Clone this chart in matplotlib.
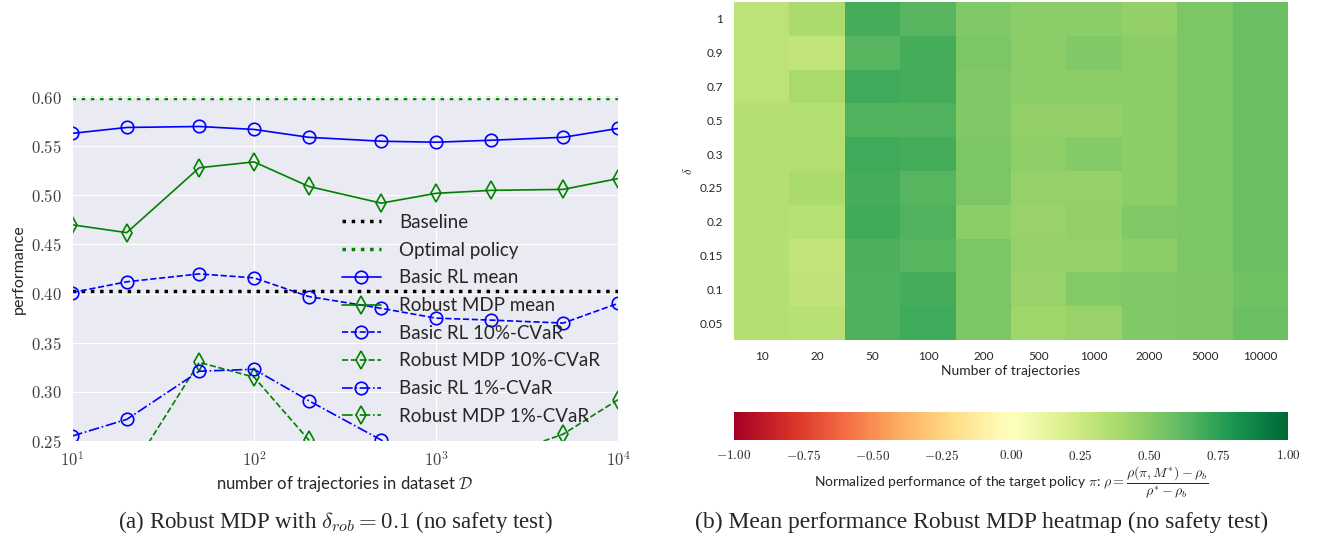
import numpy as np
import matplotlib
matplotlib.use('Agg')
import matplotlib.pyplot as plt
import seaborn as sns
from matplotlib.ticker import FuncFormatter, FixedLocator, NullLocator

sns.set_style('darkgrid')
plt.rcParams['font.family'] = ['Lato', 'DejaVu Sans']
plt.rcParams['mathtext.fontset'] = 'cm'

# left panel data
n_traj = [10, 20, 50, 100, 200, 500, 1000, 2000, 5000, 10000]
baseline = 0.403
optimal = 0.599
basic_mean = [0.563, 0.569, 0.570, 0.567, 0.559, 0.555, 0.554, 0.556, 0.559, 0.568]
robust_mean = [0.470, 0.462, 0.528, 0.534, 0.509, 0.492, 0.502, 0.505, 0.506, 0.517]
basic_cvar10 = [0.401, 0.412, 0.420, 0.416, 0.397, 0.385, 0.375, 0.373, 0.370, 0.390]
robust_cvar10 = [0.200, 0.213, 0.330, 0.315, 0.251, 0.200, 0.205, 0.231, 0.257, 0.292]
basic_cvar1 = [0.255, 0.272, 0.321, 0.323, 0.291, 0.251, 0.210, 0.200, 0.205, 0.220]
robust_cvar1 = [0.100, 0.110, 0.180, 0.170, 0.120, 0.090, 0.100, 0.110, 0.130, 0.160]

# right panel data (normalized performance)
deltas = ['1', '0.9', '0.7', '0.5', '0.3', '0.25', '0.2', '0.15', '0.1', '0.05']
traj_labels = ['10', '20', '50', '100', '200', '500', '1000', '2000', '5000', '10000']
heat = np.array([
    [0.31, 0.38, 0.68, 0.64, 0.51, 0.48, 0.48, 0.46, 0.53, 0.58],
    [0.31, 0.29, 0.64, 0.68, 0.53, 0.48, 0.51, 0.48, 0.53, 0.58],
    [0.31, 0.39, 0.70, 0.68, 0.51, 0.48, 0.48, 0.48, 0.53, 0.58],
    [0.34, 0.35, 0.65, 0.65, 0.51, 0.46, 0.46, 0.48, 0.53, 0.58],
    [0.34, 0.35, 0.70, 0.68, 0.53, 0.475, 0.50, 0.48, 0.53, 0.58],
    [0.34, 0.38, 0.68, 0.64, 0.53, 0.45, 0.45, 0.48, 0.53, 0.58],
    [0.34, 0.33, 0.69, 0.65, 0.48, 0.44, 0.46, 0.51, 0.53, 0.58],
    [0.34, 0.29, 0.67, 0.64, 0.53, 0.45, 0.45, 0.48, 0.53, 0.58],
    [0.34, 0.30, 0.66, 0.68, 0.53, 0.44, 0.50, 0.51, 0.52, 0.57],
    [0.34, 0.33, 0.66, 0.70, 0.53, 0.42, 0.44, 0.51, 0.52, 0.58],
])

W, H = 1320, 544
fig = plt.figure(figsize=(W / 100, H / 100), dpi=100)

def px(x0, y0, x1, y1):
    return [x0 / W, 1 - y1 / H, (x1 - x0) / W, (y1 - y0) / H]

# (a) line plot
ax = fig.add_axes(px(72, 97, 618, 441))
ax.plot(n_traj, [baseline] * len(n_traj), 'k:', lw=2.5, label='Baseline')
ax.plot(n_traj, [optimal] * len(n_traj), 'g:', lw=2.5, label='Optimal policy', clip_on=False)
mk = dict(markerfacecolor='none', markersize=9, markeredgewidth=1.2, lw=1.2)
ax.plot(n_traj, basic_mean, 'b-', marker='o', label='Basic RL mean', **mk)
ax.plot(n_traj, robust_mean, 'g-', marker='d', label='Robust MDP mean', **mk)
ax.plot(n_traj, basic_cvar10, 'b--', marker='o', label='Basic RL 10%-CVaR', **mk)
ax.plot(n_traj, robust_cvar10, 'g--', marker='d', label='Robust MDP 10%-CVaR', **mk)
ax.plot(n_traj, basic_cvar1, 'b-.', marker='o', label='Basic RL 1%-CVaR', **mk)
ax.plot(n_traj, robust_cvar1, 'g-.', marker='d', label='Robust MDP 1%-CVaR', **mk)
ax.set_xscale('log')
ax.set_xlim(10, 10000)
ax.set_ylim(0.25, 0.60)
ax.xaxis.set_major_locator(FixedLocator([10, 100, 1000, 10000]))
ax.xaxis.set_minor_locator(NullLocator())
ax.xaxis.set_major_formatter(FuncFormatter(lambda v, p: r'$10^{%d}$' % round(np.log10(v))))
ax.set_yticks([0.25, 0.30, 0.35, 0.40, 0.45, 0.50, 0.55, 0.60])
ax.yaxis.set_major_formatter(FuncFormatter(lambda v, p: r'$%.2f$' % v))
ax.tick_params(labelsize=12, colors='.25')
ax.set_xlabel(r'number of trajectories in dataset $\mathcal{D}$', fontsize=12, color='.15', labelpad=3)
ax.set_ylabel('performance', fontsize=11.5, color='.15')
ax.legend(loc='upper left', bbox_to_anchor=(0.47, 0.698), frameon=False, fontsize=13.5,
          handlelength=2.1, handletextpad=0.95, labelspacing=0.57, borderpad=0.2)

# (b) heatmap
hx = fig.add_axes(px(734, 2, 1288, 340))
im = hx.imshow(heat, cmap='RdYlGn', vmin=-1, vmax=1, aspect='auto', interpolation='nearest')
hx.set_xticks(range(len(traj_labels)))
hx.set_xticklabels(traj_labels)
hx.set_yticks(range(len(deltas)))
hx.set_yticklabels(deltas)
hx.grid(False)
for s in hx.spines.values():
    s.set_visible(False)
hx.tick_params(length=0, labelsize=8.5, colors='.15', pad=8)
hx.set_xlabel('Number of trajectories', fontsize=10, color='.15', labelpad=2)
hx.set_ylabel(r'$\delta$', fontsize=9, color='.15')

cx = fig.add_axes(px(734, 412, 1288, 440))
cb = fig.colorbar(im, cax=cx, orientation='horizontal')
cb.outline.set_visible(False)
cb.set_ticks([-1, -0.75, -0.5, -0.25, 0, 0.25, 0.5, 0.75, 1])
cb.ax.xaxis.set_major_formatter(FuncFormatter(lambda v, p: r'$%.2f$' % v))
cb.ax.tick_params(length=0, labelsize=9.5, colors='.15', pad=6)
cb.set_label(r'Normalized performance of the target policy $\pi$: $\rho = \dfrac{\rho(\pi, M^{*}) - \rho_b}{\rho^{*} - \rho_b}$',
             fontsize=10, color='.15', labelpad=1)

# captions
fig.text(335 / W, 1 - 522 / H, r'(a) Robust MDP with $\delta_{rob} = 0.1$ (no safety test)',
         ha='center', va='center', fontsize=16.5, family='Liberation Serif')
fig.text(982 / W, 1 - 522 / H, '(b) Mean performance Robust MDP heatmap (no safety test)',
         ha='center', va='center', fontsize=17, family='Liberation Serif')

fig.savefig('out.png', dpi=100)
